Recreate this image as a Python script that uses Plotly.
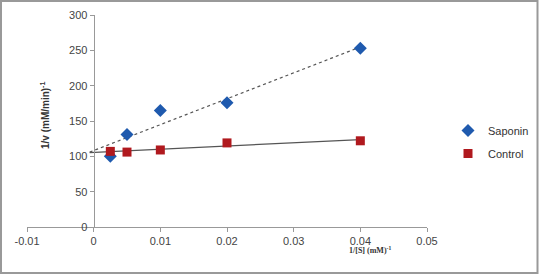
import numpy as np
import plotly.graph_objects as go

inv_s = [0.0025, 0.005, 0.01, 0.02, 0.04]
saponin = [100, 131, 165, 176, 253]
control = [107, 106, 109, 119, 122]
x_ticks = [-0.01, 0, 0.01, 0.02, 0.03, 0.04, 0.05]
x_tick_text = ["-0.01", "0", "0.01", "0.02", "0.03", "0.04", "0.05"]
y_ticks = [0, 50, 100, 150, 200, 250, 300]

W, H = 539, 275
L, R, T, B = 27, 112, 15, 48

fig = go.Figure()

# linear trendlines fitted from data
xl = np.array([-0.0006, 0.04])
for ys, dash in [(saponin, "dot"), (control, "solid")]:
    m, c = np.polyfit(inv_s, ys, 1)
    fig.add_trace(go.Scatter(x=xl, y=m * xl + c, mode="lines",
                             line=dict(color="#555555", width=1.2, dash=dash),
                             showlegend=False, hoverinfo="skip"))

fig.add_trace(go.Scatter(x=inv_s, y=saponin, mode="markers", name="Saponin", legendgroup="s",
                         marker=dict(symbol="diamond", size=10, color="#1F5AAE")))
fig.add_trace(go.Scatter(x=inv_s, y=control, mode="markers", name="Control", legendgroup="c",
                         marker=dict(symbol="square", size=9, color="#B0191E")))

pw = W - L - R
ph = H - T - B
fig.add_shape(type="rect", xref="paper", yref="paper",
              x0=(1 - L) / pw, x1=(W - 1.5 - L) / pw,
              y0=-(B - 2) / ph, y1=1 + (T - 1) / ph,
              line=dict(color="#999999", width=2))

fig.add_annotation(text="<b>1/[S] (mM)<sup>-1</sup></b>", xref="paper", yref="paper",
                   x=(393 - L) / pw, y=-(257 - T - ph) / ph, showarrow=False,
                   font=dict(family="Liberation Serif", size=8, color="#333333"))
fig.add_annotation(text="<b>1/v (mM/min)<sup>-1</sup></b>", xref="paper", yref="paper",
                   x=(37 - L) / pw, y=1 - (116 - T) / ph, showarrow=False, textangle=-90,
                   font=dict(family="Liberation Sans Narrow, Liberation Sans", size=10, color="#333333"))

fig.update_layout(
    width=W, height=H,
    margin=dict(l=L, r=R, t=T, b=B, autoexpand=False),
    paper_bgcolor="white", plot_bgcolor="white",
    showlegend=True,
    legend=dict(x=(448 - L) / pw, y=1 - (116 - T) / ph, xanchor="left", yanchor="top",
                font=dict(family="Liberation Sans", size=11, color="#333333"),
                bgcolor="rgba(0,0,0,0)", itemwidth=30, tracegroupgap=4),
    xaxis=dict(range=[-0.01, 0.05], tickvals=x_ticks, ticktext=x_tick_text,
               showgrid=False, zeroline=False, showline=True, linecolor="#999999",
               ticks="outside", ticklen=4, tickcolor="#999999",
               tickfont=dict(family="Liberation Sans", size=11, color="#444444")),
    yaxis=dict(range=[0, 300], tickvals=y_ticks, showgrid=False, zeroline=False,
               showline=True, linecolor="#999999", anchor="free", position=1 / 6,
               ticks="outside", ticklen=4, tickcolor="#999999",
               tickfont=dict(family="Liberation Sans", size=11, color="#444444")),
)

fig.write_html("out.html", config={"displayModeBar": False},
               post_script="document.body.style.margin='0';document.body.style.overflow='hidden';")
